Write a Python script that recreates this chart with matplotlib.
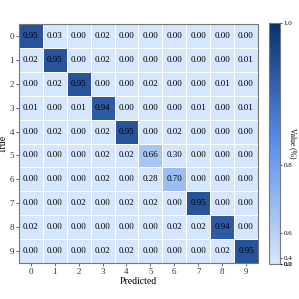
import matplotlib
matplotlib.use("Agg")
import matplotlib.pyplot as plt
from matplotlib.colors import LinearSegmentedColormap, PowerNorm
import numpy as np

plt.rcParams["font.family"] = ["Liberation Serif", "DejaVu Serif"]

classes = [str(i) for i in range(10)]
confusion = [
    [0.95, 0.03, 0.00, 0.02, 0.00, 0.00, 0.00, 0.00, 0.00, 0.00],
    [0.02, 0.95, 0.00, 0.02, 0.00, 0.00, 0.00, 0.00, 0.00, 0.01],
    [0.00, 0.02, 0.95, 0.00, 0.00, 0.02, 0.00, 0.00, 0.01, 0.00],
    [0.01, 0.00, 0.01, 0.94, 0.00, 0.00, 0.00, 0.01, 0.00, 0.01],
    [0.00, 0.02, 0.00, 0.02, 0.95, 0.00, 0.02, 0.00, 0.00, 0.00],
    [0.00, 0.00, 0.00, 0.02, 0.02, 0.66, 0.30, 0.00, 0.00, 0.00],
    [0.00, 0.00, 0.00, 0.02, 0.00, 0.28, 0.70, 0.00, 0.00, 0.00],
    [0.00, 0.00, 0.02, 0.00, 0.02, 0.02, 0.00, 0.95, 0.00, 0.00],
    [0.02, 0.00, 0.00, 0.00, 0.00, 0.00, 0.02, 0.02, 0.94, 0.00],
    [0.00, 0.00, 0.00, 0.02, 0.02, 0.00, 0.00, 0.00, 0.02, 0.95],
]
cbar_ticks = [0.0, 0.2, 0.4, 0.6, 0.8, 1.0]

cmap = LinearSegmentedColormap.from_list(
    "blues_custom", ["#d6e6fc", "#5a90ea", "#08306b"]
)
norm = PowerNorm(gamma=4, vmin=0.0, vmax=1.0)

fig = plt.figure(figsize=(2.99, 2.99), dpi=100)
ax = fig.add_axes([0.0635, 0.1204, 0.799, 0.799])
cax = fig.add_axes([0.9, 0.117, 0.037, 0.806])

data = np.array(confusion)
mesh = ax.pcolormesh(data, cmap=cmap, norm=norm, edgecolors="white", linewidth=0.6)
ax.set_xlim(0, 10)
ax.set_ylim(10, 0)
ax.set_xticks(np.arange(10) + 0.5)
ax.set_xticklabels(classes)
ax.set_yticks(np.arange(10) + 0.5)
ax.set_yticklabels(classes, rotation=0)
ax.tick_params(labelsize=6.5, length=2, width=0.5, pad=1.5, colors="#333333")
for spine in ax.spines.values():
    spine.set_color("#777777")
    spine.set_linewidth(0.8)
ax.set_xlabel("Predicted", fontsize=7, labelpad=1)
ax.set_ylabel("True", fontsize=7, labelpad=1)

for i in range(10):
    for j in range(10):
        ax.text(j + 0.5, i + 0.5, f"{data[i, j]:.2f}", ha="center", va="center",
                fontsize=6.5, color="black")

cbar = fig.colorbar(mesh, cax=cax, ticks=cbar_ticks)
cbar.ax.tick_params(labelsize=5, length=1.5, width=0.5, pad=1)
cbar.outline.set_edgecolor("#777777")
cbar.outline.set_linewidth(0.8)
cbar.set_label("Value (%)", rotation=270, fontsize=5.5, labelpad=3)

fig.savefig("out.png", dpi=100)
